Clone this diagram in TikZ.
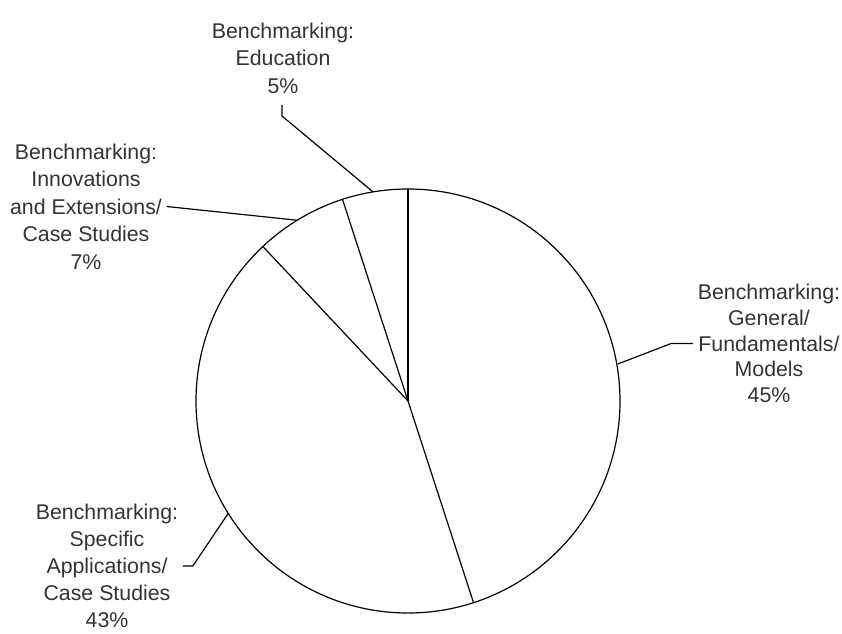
\documentclass[tikz,border=0pt]{standalone}
\usepackage{fontspec}
\setmainfont{Liberation Sans}

\begin{document}
\begin{tikzpicture}[x=0.75pt,y=0.75pt,
  lbl/.style={align=center, text=black!80, font=\fontsize{16}{20.6}\selectfont},
  pieline/.style={line width=0.9pt}]
\useasboundingbox (0,0) rectangle (842,633);
% pie
\coordinate (O) at (408,232);
\draw[pieline] (O) circle[radius=159pt];
\path (O) ++(90:212) coordinate (s1);
\path (O) ++(108:212) coordinate (s2);
\path (O) ++(133.2:212) coordinate (s3);
\path (O) ++(288:212) coordinate (s4);
\draw[pieline] (O) -- (s1);
\draw[pieline] (O) -- (s2);
\draw[pieline] (O) -- (s3);
\draw[pieline] (O) -- (s4);
% leader ends on the rim
\path (O) ++(99.5:212) coordinate (eduP);
\path (O) ++(121.5:212) coordinate (innoP);
\path (O) ++(212:212) coordinate (specP);
\path (O) ++(10:213) coordinate (genP);
% labels
\node[lbl] (edu) at (283,575) {Benchmarking:\\Education\\5\%};
\node[lbl] (inno) at (86,426.5) {Benchmarking:\\Innovations\\and Extensions/\\Case Studies\\7\%};
\node[lbl, font=\fontsize{16}{20.2}\selectfont] (spec) at (107,67) {Benchmarking:\\Specific\\Applications/\\Case Studies\\43\%};
\node[lbl, font=\fontsize{16}{19.4}\selectfont] (gen) at (769,289.5) {Benchmarking:\\General/\\Fundamentals/\\Models\\45\%};
% leaders
\coordinate (eduT) at (282,528);
\draw[pieline] (eduT) -- ++(0,-11) -- (eduP);
\draw[pieline] (inno.east) -- (innoP);
\draw[pieline] (spec.east) -- ++(10,0) -- (specP);
\draw[pieline] (gen.west) -- ++(-22,0) -- (genP);
\end{tikzpicture}
\end{document}
